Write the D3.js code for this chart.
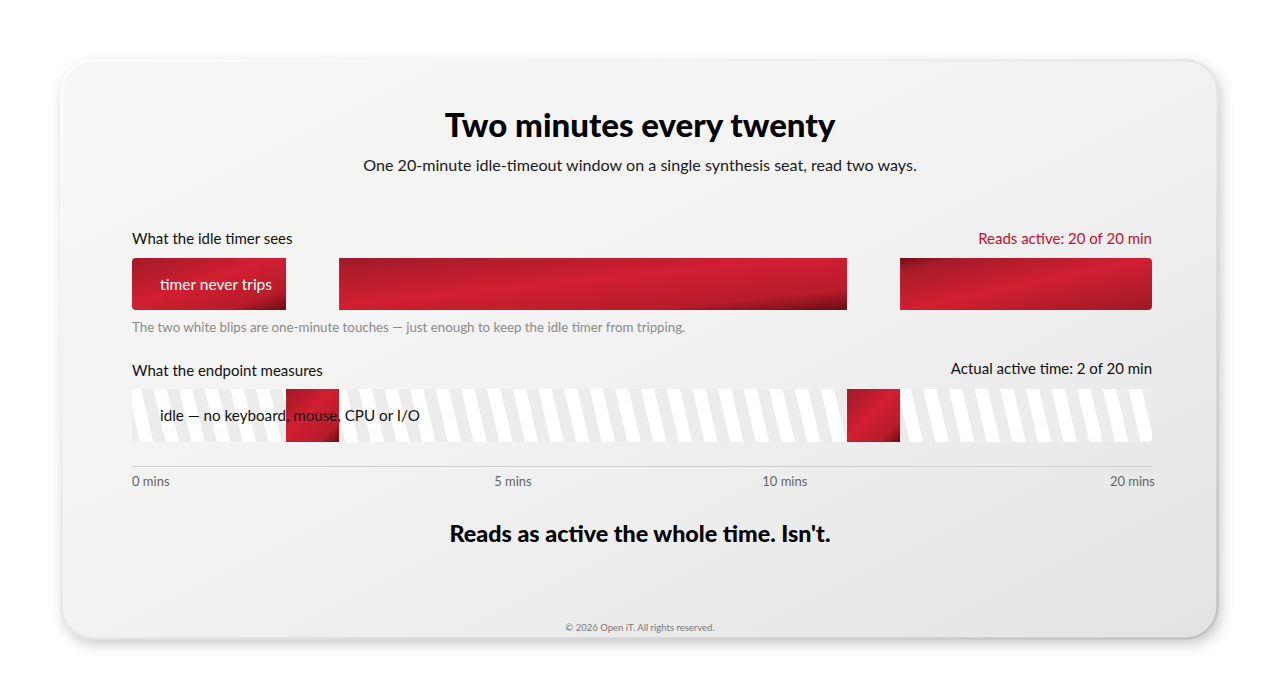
<!DOCTYPE html>
<html>
<head>
<meta charset="utf-8">
<script src="https://cdn.jsdelivr.net/npm/d3@7"></script>
<style>
  html, body { margin: 0; padding: 0; background: #ffffff; }
  svg { display: block; font-family: Lato, "Noto Sans", sans-serif; }
</style>
</head>
<body>
<svg id="chart" width="1280" height="700"></svg>
<script>
// ---- data ----
const totalMinutes = 20;
const touchStarts = [3.02, 14.02];    // minute when a one-minute touch begins
const touchEnds = [4.06, 15.06];      // minute when it ends (as drawn)
const tickLabels = ["0 mins", "5 mins", "10 mins", "20 mins"];
const tickAt = [0, 7.47, 12.8, 20];   // where the labels sit on the timeline (as drawn)
const rowTitles = ["What the idle timer sees", "What the endpoint measures"];
const rowSummaries = ["Reads active: 20 of 20 min", "Actual active time: 2 of 20 min"];
const barLabels = ["timer never trips", "idle \u2014 no keyboard, mouse, CPU or I/O"];
const title = "Two minutes every twenty";
const subtitle = "One 20-minute idle-timeout window on a single synthesis seat, read two ways.";
const note = "The two white blips are one-minute touches \u2014 just enough to keep the idle timer from tripping.";
const punchline = "Reads as active the whole time. Isn't.";
const footer = "\u00a9 2026 Open iT. All rights reserved.";

// derived: active segments seen by the idle timer
const touches = touchStarts.map((s, i) => ({start: s, end: touchEnds[i]}));
const timerSegments = [];
{
  let cur = 0;
  touches.forEach(t => { timerSegments.push({start: cur, end: t.start}); cur = t.end; });
  timerSegments.push({start: cur, end: totalMinutes});
}

const svg = d3.select("#chart");
const defs = svg.append("defs");

// card gradient
const cg = defs.append("linearGradient").attr("id", "cardBg")
  .attr("x1", 0).attr("y1", 0).attr("x2", 1).attr("y2", 1);
cg.append("stop").attr("offset", 0).attr("stop-color", "#f7f7f6");
cg.append("stop").attr("offset", 0.5).attr("stop-color", "#f2f2f2");
cg.append("stop").attr("offset", 1).attr("stop-color", "#e3e3e3");

const cb = defs.append("linearGradient").attr("id", "cardBorder")
  .attr("x1", 0).attr("y1", 0).attr("x2", 1).attr("y2", 1);
cb.append("stop").attr("offset", 0).attr("stop-color", "#ffffff");
cb.append("stop").attr("offset", 0.5).attr("stop-color", "#e6e6e6");
cb.append("stop").attr("offset", 1).attr("stop-color", "#c2c2c2");

const sh = defs.append("filter").attr("id", "shadow")
  .attr("x", "-10%").attr("y", "-10%").attr("width", "120%").attr("height", "125%");
sh.append("feDropShadow").attr("dx", 3).attr("dy", 5).attr("stdDeviation", 7)
  .attr("flood-color", "#000").attr("flood-opacity", 0.22);

// red gradients
function redGrad(id, stops) {
  const g = defs.append("linearGradient").attr("id", id)
    .attr("x1", 0).attr("y1", 0).attr("x2", 1).attr("y2", 1);
  stops.forEach(s => g.append("stop").attr("offset", s[0]).attr("stop-color", s[1]));
}
redGrad("redA", [[0, "#a01a27"], [0.45, "#d11f31"], [0.8, "#b81c2b"], [1, "#6a0c15"]]);
redGrad("redB", [[0, "#6f0d16"], [0.12, "#a51b28"], [0.5, "#d11f31"], [1, "#9d1a26"]]);

// stripes
const pat = defs.append("pattern").attr("id", "stripes")
  .attr("patternUnits", "userSpaceOnUse").attr("width", 25).attr("height", 60)
  .attr("patternTransform", "rotate(-13)");
pat.append("rect").attr("width", 25).attr("height", 60).attr("fill", "#ececec");
pat.append("rect").attr("x", 12).attr("width", 13).attr("height", 60).attr("fill", "#ffffff");

// card
svg.append("rect").attr("x", 61).attr("y", 60).attr("width", 1157).attr("height", 579)
  .attr("rx", 32).attr("fill", "url(#cardBg)").attr("filter", "url(#shadow)");
svg.append("rect").attr("x", 61.5).attr("y", 60.5).attr("width", 1156).attr("height", 578)
  .attr("rx", 32).attr("fill", "none").attr("stroke", "url(#cardBorder)").attr("stroke-width", 2.5);

// scale
const x = d3.scaleLinear().domain([0, totalMinutes]).range([132, 1152]);

// titles
svg.append("text").attr("x", 640).attr("y", 137).attr("text-anchor", "middle")
  .attr("font-size", 33).attr("font-weight", 900).attr("fill", "#000").text(title);
svg.append("text").attr("x", 640).attr("y", 171).attr("text-anchor", "middle")
  .attr("font-size", 16.1).attr("fill", "#1a1a1a").text(subtitle);

// row headers
const rowHeadY = [244, 376];
rowTitles.forEach((t, i) => {
  svg.append("text").attr("x", x(0)).attr("y", rowHeadY[i])
    .attr("font-size", 15).attr("fill", "#111").text(t);
  svg.append("text").attr("x", x(totalMinutes)).attr("y", rowHeadY[i] - (i === 1 ? 2 : 0))
    .attr("text-anchor", "end").attr("font-size", 15)
    .attr("fill", i === 0 ? "#c8102e" : "#111").text(rowSummaries[i]);
});

// row 1: idle-timer view
const r = 4;
function segPath(x0, x1, y0, h, roundL, roundR) {
  const p = d3.path();
  p.moveTo(x0 + (roundL ? r : 0), y0);
  p.lineTo(x1 - (roundR ? r : 0), y0);
  if (roundR) p.arcTo(x1, y0, x1, y0 + r, r);
  p.lineTo(x1, y0 + h - (roundR ? r : 0));
  if (roundR) p.arcTo(x1, y0 + h, x1 - r, y0 + h, r);
  p.lineTo(x0 + (roundL ? r : 0), y0 + h);
  if (roundL) p.arcTo(x0, y0 + h, x0, y0 + h - r, r);
  p.lineTo(x0, y0 + (roundL ? r : 0));
  if (roundL) p.arcTo(x0, y0, x0 + r, y0, r);
  p.closePath();
  return p.toString();
}
const row1Y = 258, rowH = 52;
svg.append("g").selectAll("path").data(timerSegments).join("path")
  .attr("d", (d, i) => segPath(x(d.start), x(d.end), row1Y, rowH, i === 0, i === timerSegments.length - 1))
  .attr("fill", (d, i) => i === timerSegments.length - 1 ? "url(#redB)" : "url(#redA)");
svg.append("text").attr("x", 160).attr("y", row1Y + rowH / 2 + 5.5)
  .attr("font-size", 15.5).attr("fill", "#ffffff").text(barLabels[0]);

// note
svg.append("text").attr("x", x(0)).attr("y", 332)
  .attr("font-size", 13.3).attr("fill", "#8a8a8a").text(note);

// row 2: endpoint view
const row2Y = 389;
svg.append("rect").attr("x", x(0)).attr("y", row2Y).attr("width", x(totalMinutes) - x(0))
  .attr("height", 53).attr("rx", 4).attr("fill", "url(#stripes)");
svg.append("g").selectAll("rect").data(touches).join("rect")
  .attr("x", d => x(d.start)).attr("y", row2Y)
  .attr("width", d => x(d.end) - x(d.start)).attr("height", 53)
  .attr("fill", "url(#redA)");
svg.append("text").attr("x", 160).attr("y", row2Y + 26.5 + 5.5)
  .attr("font-size", 15.2).attr("fill", "#111").text(barLabels[1]);

// axis
svg.append("line").attr("x1", x(0)).attr("x2", x(totalMinutes)).attr("y1", 466.5).attr("y2", 466.5)
  .attr("stroke", "#cfcfcf").attr("stroke-width", 1);
svg.append("g").selectAll("text").data(tickLabels).join("text")
  .attr("x", (d, i) => x(tickAt[i]) + (i === tickLabels.length - 1 ? 3 : 0))
  .attr("y", 486)
  .attr("text-anchor", (d, i) => i === 0 ? "start" : (i === tickLabels.length - 1 ? "end" : "middle"))
  .attr("font-size", 13).attr("fill", "#666").text(d => d);

// punchline & footer
svg.append("text").attr("x", 640).attr("y", 542).attr("text-anchor", "middle")
  .attr("font-size", 23.3).attr("font-weight", 900).attr("fill", "#000").text(punchline);
svg.append("text").attr("x", 640).attr("y", 631).attr("text-anchor", "middle")
  .attr("font-size", 9.5).attr("fill", "#777").text(footer);
</script>
</body>
</html>
